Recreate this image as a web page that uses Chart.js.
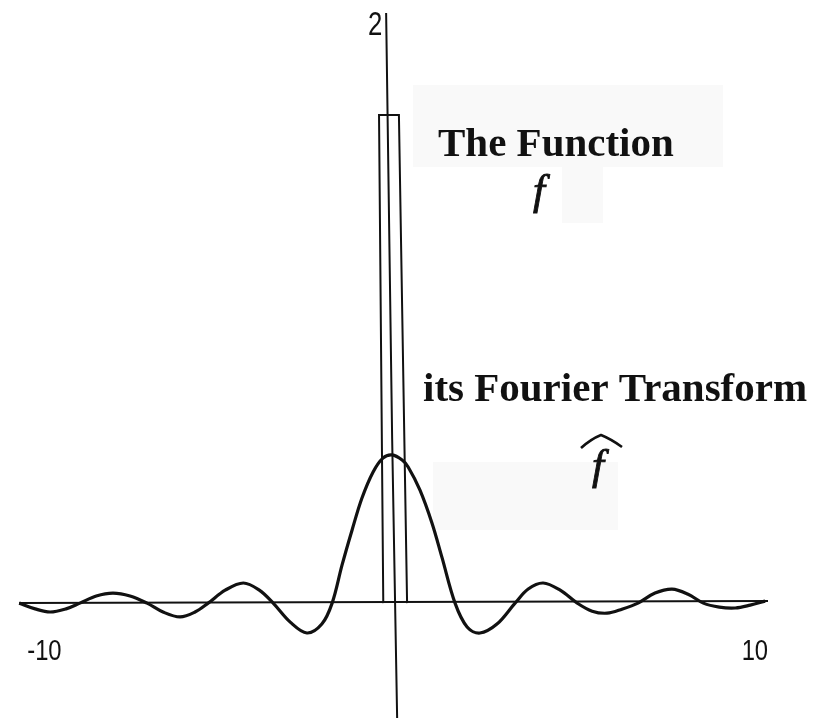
<!DOCTYPE html>
<html>
<head>
<meta charset="utf-8">
<script src="https://cdn.jsdelivr.net/npm/chart.js@4"></script>
<style>
  html, body { margin: 0; padding: 0; background: #ffffff; }
  #wrap { width: 833px; height: 718px; }
</style>
</head>
<body>
<div id="wrap"><canvas id="chart" width="833" height="718"></canvas></div>
<script>
// Fourier transform of the pulse (sinc-shaped curve)
const fourierX = [-10.71, -10.26, -9.84, -9.39, -9.00, -8.54, -8.07, -7.59, -7.11, -6.66,
  -6.18, -5.76, -5.39, -4.91, -4.40, -3.95, -3.56, -3.08, -2.61, -2.19,
  -1.90, -1.62, -1.34, -1.06, -0.75, -0.47, -0.21, 0.07, 0.24, 0.57,
  0.91, 1.19, 1.56, 1.90, 2.26, 2.74, 3.25, 3.62, 4.04, 4.52,
  5.00, 5.42, 5.84, 6.26, 6.71, 7.19, 7.67, 8.12, 8.55, 9.00,
  9.45, 9.87, 10.29];
const fourierY = [0.0, -0.02, -0.031, -0.02, 0.0, 0.025, 0.035, 0.025, 0.0, -0.031,
  -0.048, -0.031, 0.0, 0.045, 0.07, 0.045, 0.0, -0.066, -0.104, -0.073,
  0.0, 0.133, 0.254, 0.366, 0.456, 0.505, 0.516, 0.498, 0.474, 0.394,
  0.279, 0.16, 0.0, -0.083, -0.104, -0.073, 0.0, 0.049, 0.07, 0.045,
  0.0, -0.028, -0.035, -0.021, 0.0, 0.035, 0.049, 0.031, 0.0, -0.014,
  -0.017, -0.007, 0.007];

// The rectangular pulse f
const pulseX = [-0.46, -0.58, -0.02, 0.21];
const pulseY = [0, 1.70, 1.70, 0];

// Axes
const xAxisX = [-10.71, 10.37];
const xAxisY = [0, 0.007];
const yAxisX = [-0.38, -0.21, -0.07];
const yAxisY = [2.055, 0.57, -0.40];

// Tick labels
const xTickValues = [-10, 10];
const xTickLabels = ['-10', '10'];
const yTickValues = [2];
const yTickLabels = ['2'];

// Captions
const captionTop = 'The Function';
const captionBottom = 'its Fourier Transform';

const pts = (xs, ys) => xs.map((x, i) => ({ x: x, y: ys[i] }));
const INK = '#111111';
const TICK_FONT = '"Liberation Sans Narrow", "Arial Narrow", "Liberation Sans", sans-serif';

// condensed text, centred on (x, y)
function narrowText(ctx, text, x, y, size, squeeze) {
  ctx.save();
  ctx.translate(x, y);
  ctx.scale(squeeze, 1);
  ctx.font = size + 'px ' + TICK_FONT;
  ctx.textAlign = 'center';
  ctx.textBaseline = 'middle';
  ctx.fillText(text, 0, 0);
  ctx.restore();
}

const decorations = {
  id: 'decorations',
  beforeDatasetsDraw(chart) {
    const ctx = chart.ctx;
    ctx.save();
    // pale panels behind the captions
    ctx.fillStyle = '#f9f9f9';
    ctx.fillRect(413, 85, 310, 82);
    ctx.fillRect(562, 167, 41, 56);
    ctx.fillRect(433, 462, 185, 68);
    ctx.restore();
  },
  afterDatasetsDraw(chart) {
    const ctx = chart.ctx;
    const xs = chart.scales.x, ys = chart.scales.y;
    ctx.save();
    ctx.fillStyle = INK;
    // x tick labels
    const y0 = ys.getPixelForValue(0);
    xTickValues.forEach((v, i) => {
      narrowText(ctx, xTickLabels[i], xs.getPixelForValue(v), y0 + 49, 29, 0.82);
    });
    // y tick label
    yTickValues.forEach((v, i) => {
      narrowText(ctx, yTickLabels[i], xs.getPixelForValue(yAxisX[0]) - 11, ys.getPixelForValue(v) - 3, 33, 0.78);
    });
    // captions
    ctx.textAlign = 'left';
    ctx.textBaseline = 'alphabetic';
    ctx.font = 'bold 41px "Liberation Serif", "Times New Roman", serif';
    ctx.fillText(captionTop, 438, 156);
    ctx.fillText(captionBottom, 423, 401);
    ctx.font = 'italic 43px "Liberation Serif", "Times New Roman", serif';
    ctx.textAlign = 'center';
    ctx.strokeStyle = INK;
    ctx.lineWidth = 0.9;
    ctx.fillText('f', 539, 204);
    ctx.strokeText('f', 539, 204);
    ctx.fillText('f', 598, 479);
    ctx.strokeText('f', 598, 479);
    // wide hat over the second f
    ctx.lineWidth = 2.6;
    ctx.lineJoin = 'round';
    ctx.beginPath();
    ctx.moveTo(581, 448);
    ctx.quadraticCurveTo(591, 439, 601, 435);
    ctx.quadraticCurveTo(611, 439, 622, 447);
    ctx.stroke();
    ctx.restore();
  }
};

const lineSet = (data, width) => ({
  data: data,
  showLine: true,
  borderColor: INK,
  borderWidth: width,
  pointRadius: 0,
  fill: false,
  tension: 0
});

const fourierSet = lineSet(pts(fourierX, fourierY), 3.2);
fourierSet.tension = 0.35;

new Chart(document.getElementById('chart'), {
  type: 'scatter',
  data: {
    datasets: [
      lineSet(pts(xAxisX, xAxisY), 2),
      lineSet(pts(yAxisX, yAxisY), 2),
      lineSet(pts(pulseX, pulseY), 2),
      fourierSet
    ]
  },
  options: {
    responsive: false,
    animation: false,
    layout: { padding: 0 },
    plugins: { legend: { display: false }, tooltip: { enabled: false } },
    scales: {
      x: { type: 'linear', min: -11.25, max: 12.2, display: false },
      y: { type: 'linear', min: -0.4, max: 2.1, display: false }
    }
  },
  plugins: [decorations]
});
</script>
</body>
</html>
